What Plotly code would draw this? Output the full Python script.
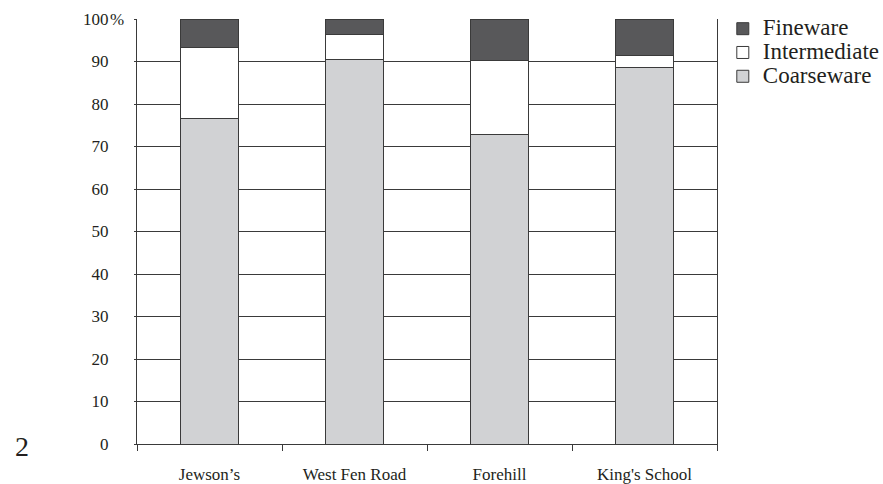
import plotly.graph_objects as go

# Ceramic ware composition by site (percent of assemblage)
sites = ["Jewson’s", "West Fen Road", "Forehill", "King's School"]
coarseware = [76.5, 90.5, 72.9, 88.6]
intermediate = [16.8, 5.9, 17.3, 2.8]
fineware = [6.7, 3.6, 9.8, 8.6]

y_ticks = list(range(0, 101, 10))
y_ticktext = [str(v) for v in y_ticks]

FONT = "Liberation Serif"
LINE = "#3a3a3a"

fig = go.Figure()
series = [
    ("Coarseware", coarseware, "#d1d2d4"),
    ("Intermediate", intermediate, "#ffffff"),
    ("Fineware", fineware, "#58585a"),
]
for name, vals, color in series:
    fig.add_trace(go.Bar(
        x=sites, y=vals, name=f'<span style="font-size:23px">{name}</span>',
        width=0.4,
        marker=dict(color=color, line=dict(color=LINE, width=1)),
    ))

fig.update_layout(
    width=883, height=484,
    barmode="stack",
    plot_bgcolor="white", paper_bgcolor="white",
    margin=dict(l=137, r=166, t=19, b=40, autoexpand=False),
    font=dict(family=FONT, color="#231f20", size=17),
    legend=dict(
        x=1.01, y=1.017, xanchor="left", yanchor="top",
        traceorder="reversed", font=dict(size=16, family=FONT),
        bgcolor="rgba(0,0,0,0)", itemwidth=30,
    ),
    xaxis=dict(
        type="category", tickson="boundaries", ticks="outside", ticklen=6,
        tickcolor=LINE, showline=True, linecolor=LINE, linewidth=1,
        showgrid=False, tickfont=dict(size=17, family=FONT), ticklabelstandoff=15,
    ),
    yaxis=dict(
        range=[0, 100], tickvals=y_ticks, ticktext=y_ticktext,
        ticks="outside", ticklen=2, tickcolor=LINE,
        showline=True, mirror=True, linecolor=LINE, linewidth=1,
        showgrid=True, gridcolor=LINE, gridwidth=1,
        tickfont=dict(size=17, family=FONT), ticklabelstandoff=22, zeroline=False,
    ),
    annotations=[
        dict(text="%", xref="paper", yref="y", x=-0.046, y=100,
             xanchor="left", yanchor="middle", showarrow=False,
             xshift=-2, font=dict(size=17, family=FONT)),
        dict(text="2", xref="paper", yref="paper", x=-0.214, y=-0.005,
             xanchor="left", yanchor="middle", showarrow=False,
             font=dict(size=28, family=FONT)),
    ],
)

fig.write_html("out.html")
